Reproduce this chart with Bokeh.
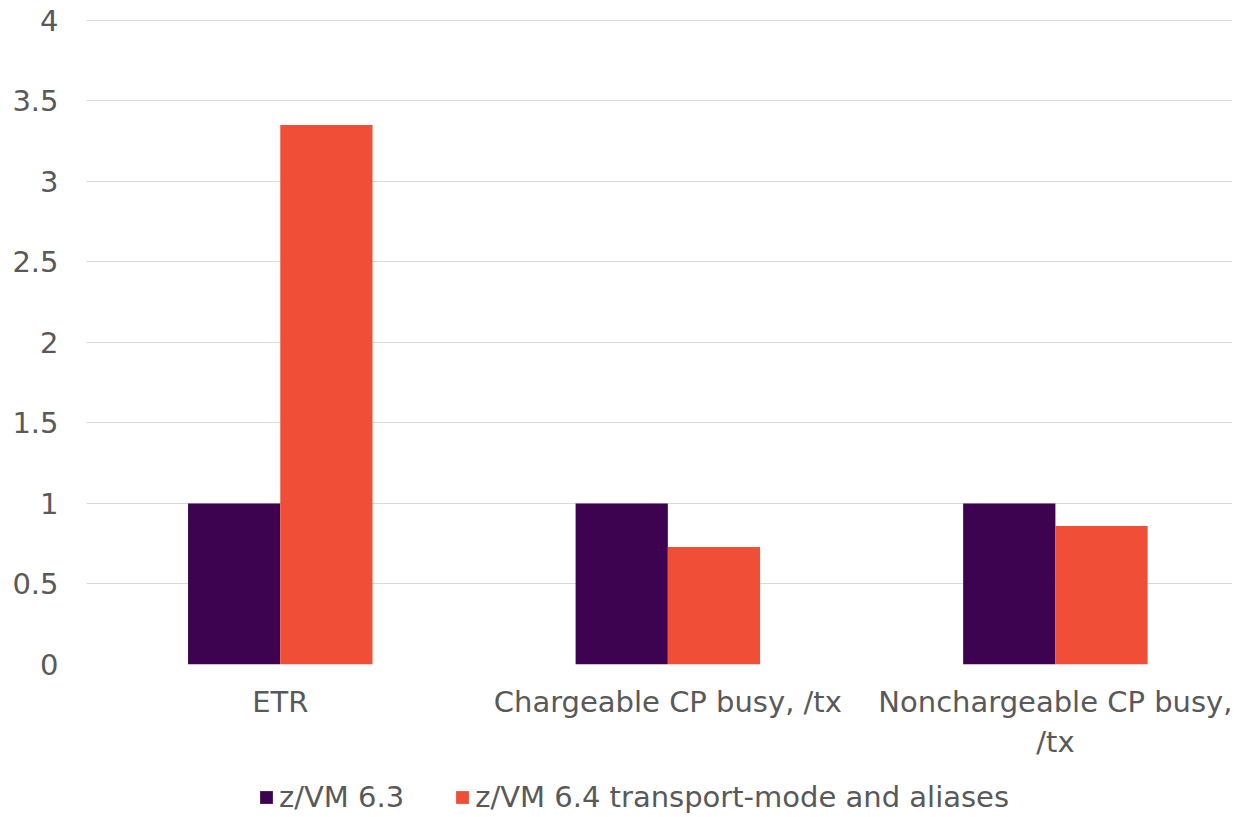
from bokeh.plotting import figure
from bokeh.models import ColumnDataSource, Range1d, FixedTicker, Legend, LegendItem
from bokeh.transform import dodge
from bokeh.layouts import column
from bokeh.embed import file_html
from bokeh.resources import INLINE

categories = ["ETR", "Chargeable CP busy, /tx", "Nonchargeable CP busy,\n/tx"]
series_names = ["z/VM 6.3", "z/VM 6.4 transport-mode and aliases"]
zvm63 = [1.0, 1.0, 1.0]
zvm64 = [3.35, 0.73, 0.86]
y_ticks = [0, 0.5, 1, 1.5, 2, 2.5, 3, 3.5, 4]
y_tick_labels = ["0", "0.5", "1", "1.5", "2", "2.5", "3", "3.5", "4"]
colors = ["#3d0351", "#f04e37"]

xpos = [i + 0.5 for i in range(len(categories))]
src = ColumnDataSource(dict(x=xpos, a=zvm63, b=zvm64))

FONT = "DejaVu Sans"
FS = "29px"
TXT = "#595959"

p = figure(width=1234, height=770, output_backend="svg", toolbar_location=None,
           x_range=Range1d(0, 2.957), y_range=Range1d(0, 4.012),
           min_border_left=86, min_border_right=2, min_border_top=18, min_border_bottom=106)
p.outline_line_color = None
p.background_fill_color = "white"
p.border_fill_color = "white"

bw = 0.238
r1 = p.vbar(x=dodge("x", -bw / 2), top="a", width=bw, source=src, color=colors[0], line_color=None)
r2 = p.vbar(x=dodge("x", bw / 2), top="b", width=bw, source=src, color=colors[1], line_color=None)

p.xgrid.visible = False
p.ygrid.grid_line_color = "#d9d9d9"
p.ygrid.grid_line_width = 1

p.yaxis.ticker = FixedTicker(ticks=y_ticks)
p.yaxis.major_label_overrides = {t: l for t, l in zip(y_ticks, y_tick_labels)}
p.xaxis.ticker = FixedTicker(ticks=xpos)
p.xaxis.major_label_overrides = {x: c for x, c in zip(xpos, categories)}
for ax in (p.xaxis, p.yaxis):
    ax.axis_line_color = None
    ax.major_tick_line_color = None
    ax.minor_tick_line_color = None
    ax.major_label_text_font = FONT
    ax.major_label_text_font_size = FS
    ax.major_label_text_color = TXT
p.yaxis.major_label_standoff = 22
p.xaxis.major_label_standoff = 14

# legend strip below the chart
pl = figure(width=1234, height=47, output_backend="svg", toolbar_location=None,
            x_range=Range1d(10, 11), y_range=Range1d(10, 11),
            min_border_left=0, min_border_right=0, min_border_top=0, min_border_bottom=0)
pl.axis.visible = False
pl.grid.visible = False
pl.outline_line_color = None
pl.border_fill_color = "white"
l1 = pl.vbar(x="x", top="a", width=bw, source=src, color=colors[0], line_color=None)
l2 = pl.vbar(x="x", top="b", width=bw, source=src, color=colors[1], line_color=None)
legend = Legend(items=[LegendItem(label=series_names[0], renderers=[l1]),
                       LegendItem(label=series_names[1], renderers=[l2])],
                orientation="horizontal", location=(172, 3),
                label_text_font=FONT, label_text_font_size=FS, label_text_color=TXT,
                glyph_width=16, glyph_height=16, label_standoff=5, spacing=50,
                border_line_color=None, background_fill_alpha=0, padding=0, margin=0)
pl.add_layout(legend, "center")

open("out.html", "w").write(file_html(column(p, pl, spacing=0), INLINE))
